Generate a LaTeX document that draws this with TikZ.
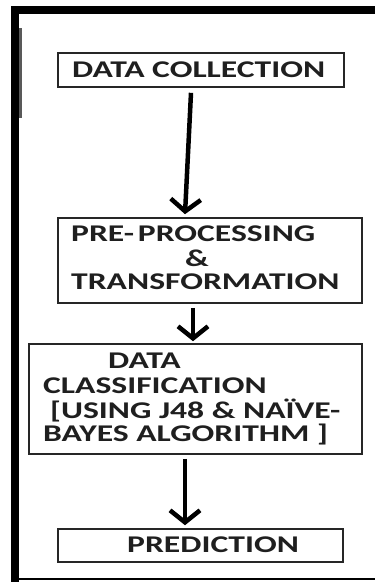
\documentclass[tikz,border=0pt]{standalone}
\usepackage{fontspec}
\newfontfamily\boxfont[FakeStretch=1.40]{Carlito}
\usetikzlibrary{arrows.meta}
\tikzset{
  stagebox/.style={draw=black!85, line width=1.6pt, rectangle, inner sep=0pt},
  flowarrow/.style={line width=4.5pt, -{Straight Barb[length=12pt, width=30pt, line width=4.5pt]}},
  lbl/.style={anchor=base west, inner sep=0pt, font=\boxfont\bfseries\fontsize{24}{28}\selectfont, text=black!88},
}
\begin{document}
\begin{tikzpicture}[x=1pt, y=-1pt]
\useasboundingbox (0,0) rectangle (375,582);
% outer frame
\fill[black] (11,6) rectangle (375,14);
\fill[black] (11,6) rectangle (19,582);
\fill[black!65] (19,28) rectangle (22,118);
\draw[line width=2pt] (11,579) -- (375,579);

% stage boxes
\node[stagebox, minimum width=286pt, minimum height=34pt] (b1) at (201,70) {};
\node[stagebox, minimum width=304pt, minimum height=85pt] (b2) at (210,260.5) {};
\node[stagebox, minimum width=333pt, minimum height=110pt] (b3) at (195.5,399) {};
\node[stagebox, minimum width=285pt, minimum height=33pt] (b4) at (200.5,545.5) {};

% labels
\node[lbl] (t1) at (72,77) {DATA COLLECTION};
\node[lbl] (t2a) at (71,241) {PRE-\,PROCESSING};
\node[lbl] (t2b) at (185,266) {\&};
\node[lbl] (t2c) at (71,289) {TRANSFORMATION};
\node[lbl] (t3a) at (108,368) {DATA};
\node[lbl] (t3b) at (43,393) {CLASSIFICATION};
\node[lbl] (t3c) at (50,418) {[USING J48 \& NAÏVE-};
\node[lbl] (t3d) at (43,441) {BAYES ALGORITHM ]};
\node[lbl] (t4) at (127,552) {PREDICTION};

% connectors
\draw[flowarrow] ([xshift=-10pt,yshift=-5pt]b1.south) -- ([xshift=-25pt,yshift=3pt]b2.north);
\draw[flowarrow] ([xshift=-17pt,yshift=-4pt]b2.south) -- ([xshift=-2.5pt,yshift=2pt]b3.north);
\draw[flowarrow] ([xshift=-10.5pt,yshift=-4pt]b3.south) -- ([xshift=-15.5pt,yshift=3pt]b4.north);
\end{tikzpicture}
\end{document}
